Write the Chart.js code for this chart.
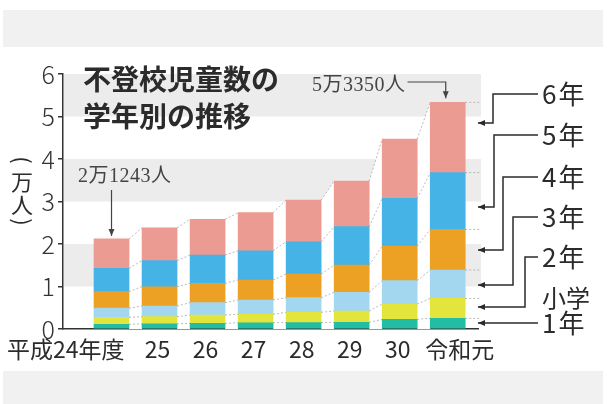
<!DOCTYPE html>
<html>
<head>
<meta charset="utf-8">
<script src="https://cdn.jsdelivr.net/npm/chart.js@4.4.1/dist/chart.umd.min.js"></script>
<style>
    html, body { margin: 0; padding: 0; background: #fff; }
    #wrap { position: relative; width: 607px; height: 404px; overflow: hidden; }
    .band { position: absolute; left: 3px; right: 4px; background: #f1f1f1; }
    #bandTop { top: 10px; height: 37px; }
    #bandBottom { top: 371px; height: 33px; }
    canvas { position: absolute; left: 0; top: 0; }
</style>
</head>
<body>
<div id="wrap">
    <div class="band" id="bandTop"></div>
    <div class="band" id="bandBottom"></div>
    <canvas id="chart" width="607" height="404"></canvas>
</div>
<script>
// 不登校児童数 (万人) by fiscal year and grade
const categories = ["平成24年度", "25", "26", "27", "28", "29", "30", "令和元"];
const gradeLabels = ["1年", "2年", "3年", "4年", "5年", "6年"];
const grade1 = [0.110, 0.120, 0.134, 0.148, 0.150, 0.157, 0.228, 0.252];
const grade2 = [0.165, 0.170, 0.196, 0.198, 0.243, 0.267, 0.360, 0.470];
const grade3 = [0.215, 0.250, 0.290, 0.336, 0.344, 0.439, 0.549, 0.666];
const grade4 = [0.390, 0.455, 0.455, 0.471, 0.557, 0.643, 0.816, 0.958];
const grade5 = [0.550, 0.615, 0.665, 0.689, 0.760, 0.901, 1.122, 1.332];
const grade6 = [0.690, 0.770, 0.840, 0.895, 0.980, 1.073, 1.395, 1.657];
const gradeColors = ["#22bea3", "#e3e53c", "#a2d7ef", "#eca024", "#46b3e6", "#eb9b92"];
const firstTotal = "2万1243人";
const lastTotal = "5万3350人";

const JP = '"Noto Sans CJK JP", "Noto Sans", sans-serif';
const INK = "#2b2b2b";

const series = [grade1, grade2, grade3, grade4, grade5, grade6];

// draw a polyline that ends in a small filled arrow head
function arrowLine(ctx, pts) {
    ctx.beginPath();
    ctx.moveTo(pts[0][0], pts[0][1]);
    for (let i = 1; i < pts.length; i++) ctx.lineTo(pts[i][0], pts[i][1]);
    ctx.stroke();
    const [x1, y1] = pts[pts.length - 2];
    const [x2, y2] = pts[pts.length - 1];
    const a = Math.atan2(y2 - y1, x2 - x1);
    const len = 7, half = 3;
    ctx.beginPath();
    ctx.moveTo(x2, y2);
    ctx.lineTo(x2 - len * Math.cos(a) + half * Math.sin(a), y2 - len * Math.sin(a) - half * Math.cos(a));
    ctx.lineTo(x2 - len * Math.cos(a) - half * Math.sin(a), y2 - len * Math.sin(a) + half * Math.cos(a));
    ctx.closePath();
    ctx.fill();
}

function barBox(bar) {
    return { left: bar.x - bar.width / 2, right: bar.x + bar.width / 2, top: bar.y, base: bar.base };
}

// gray bands behind the bars and white gaps between them
const backdrop = {
    id: "backdrop",
    beforeDatasetsDraw(chart) {
        const { ctx, chartArea, scales } = chart;
        const y = scales.y;
        ctx.save();
        ctx.fillStyle = "#ececec";
        [[1, 2], [3, 4], [5, 6]].forEach(([a, b]) => {
            const top = y.getPixelForValue(b);
            const bot = y.getPixelForValue(a);
            ctx.fillRect(chartArea.left + 1, top, chartArea.right + 2 - chartArea.left, bot - top);
        });
        const topMeta = chart.getDatasetMeta(series.length - 1).data;
        ctx.fillStyle = "#ffffff";
        for (let j = 0; j < topMeta.length - 1; j++) {
            const a = barBox(topMeta[j]);
            const b = barBox(topMeta[j + 1]);
            const base = y.getPixelForValue(0);
            ctx.beginPath();
            ctx.moveTo(a.right, a.top);
            ctx.lineTo(b.left, b.top);
            ctx.lineTo(b.left, base);
            ctx.lineTo(a.right, base);
            ctx.closePath();
            ctx.fill();
        }
        ctx.restore();
    },
    afterDatasetsDraw(chart) {
        const { ctx, chartArea } = chart;
        ctx.save();
        ctx.strokeStyle = "#a9a9a9";
        ctx.lineWidth = 0.8;
        ctx.setLineDash([2, 2]);
        series.forEach((_, d) => {
            const bars = chart.getDatasetMeta(d).data;
            for (let j = 0; j < bars.length; j++) {
                const a = barBox(bars[j]);
                ctx.beginPath();
                ctx.moveTo(a.right, a.top);
                if (j < bars.length - 1) {
                    const b = barBox(bars[j + 1]);
                    ctx.lineTo(b.left, b.top);
                } else {
                    ctx.lineTo(chartArea.right + 2, a.top);
                }
                ctx.stroke();
            }
        });
        ctx.restore();
    }
};

// title, unit, category labels, totals and the grade legend
const annotations = {
    id: "annotations",
    afterDraw(chart) {
        const { ctx, scales } = chart;
        const x = scales.x;
        ctx.save();
        ctx.fillStyle = INK;
        ctx.strokeStyle = INK;
        ctx.textBaseline = "middle";

        // title
        ctx.font = `bold 28px ${JP}`;
        ctx.textAlign = "left";
        ctx.fillText("不登校児童数の", 83, 79);
        ctx.fillText("学年別の推移", 83, 116);

        // unit (vertical)
        ctx.font = `22px ${JP}`;
        ctx.textAlign = "center";
        ctx.save();
        ctx.translate(22, 160);
        ctx.rotate(Math.PI / 2);
        ctx.fillText("(", 0, 0);
        ctx.restore();
        ctx.fillText("万", 22, 182);
        ctx.fillText("人", 22, 205);
        ctx.save();
        ctx.translate(22, 222);
        ctx.rotate(Math.PI / 2);
        ctx.fillText(")", 0, 0);
        ctx.restore();

        // category labels
        ctx.font = `23px ${JP}`;
        categories.forEach((c, i) => {
            const px = x.getPixelForValue(i);
            if (i === 0) {
                ctx.textAlign = "right";
                ctx.fillText(c, px + 13, 349);
            } else if (i === categories.length - 1) {
                ctx.textAlign = "center";
                ctx.fillText(c, px + 12, 349);
            } else {
                ctx.textAlign = "center";
                ctx.fillText(c, px - 2, 349);
            }
        });

        // totals
        ctx.lineWidth = 1.2;
        ctx.fillStyle = "#444";
        ctx.strokeStyle = "#444";
        ctx.font = `20px "Liberation Serif", "Noto Sans CJK JP", serif`;
        ctx.letterSpacing = "0.5px";
        const first = chart.getDatasetMeta(series.length - 1).data[0];
        const last = chart.getDatasetMeta(series.length - 1).data[categories.length - 1];
        ctx.textAlign = "left";
        ctx.fillText(firstTotal, 78, 177);
        arrowLine(ctx, [[first.x, 190], [first.x, first.y - 3]]);
        const lastEnd = 312 + ctx.measureText(lastTotal).width;
        ctx.fillText(lastTotal, 312, 86);
        arrowLine(ctx, [[lastEnd + 2, 82], [last.x - 2, 82], [last.x - 2, last.y - 4]]);

        // grade legend with leader arrows
        ctx.fillStyle = INK;
        ctx.strokeStyle = INK;
        ctx.lineWidth = 1.5;
        const tipX = chart.chartArea.right;
        const leaders = [
            { ty: 323, vx: null, ay: 323 },
            { ty: 257, vx: 525, ay: 307 },
            { ty: 217, vx: 513, ay: 285 },
            { ty: 177, vx: 503, ay: 250 },
            { ty: 135, vx: 494, ay: 207 },
            { ty: 94, vx: 493, ay: 123 }
        ];
        leaders.forEach((l, i) => {
            const pts = l.vx === null
                ? [[538, l.ty], [tipX, l.ay]]
                : [[538, l.ty], [l.vx, l.ty], [l.vx, l.ay], [tipX, l.ay]];
            arrowLine(ctx, pts);
            ctx.font = `26px ${JP}`;
            ctx.textAlign = "left";
            ctx.letterSpacing = "2px";
            ctx.fillText(gradeLabels[i], 542, l.ty);
        });
        ctx.letterSpacing = "0px";
        ctx.font = `24px ${JP}`;
        ctx.fillText("小学", 542, 298);
        ctx.restore();
    }
};

new Chart(document.getElementById("chart").getContext("2d"), {
    type: "bar",
    data: {
        datasets: series.map((values, d) => ({
            label: gradeLabels[d],
            data: values.map((v, i) => ({ x: i, y: v })),
            backgroundColor: gradeColors[d],
            borderWidth: 0,
            barThickness: 35
        }))
    },
    options: {
        responsive: false,
        animation: false,
        layout: { padding: { left: 0, right: 129, top: 74, bottom: 0 } },
        plugins: { legend: { display: false }, tooltip: { enabled: false } },
        scales: {
            x: {
                type: "linear",
                min: -1.01,
                max: 7.63,
                stacked: true,
                offset: false,
                grid: { display: false },
                ticks: { display: false },
                border: { color: "#333", width: 1.5 },
                afterFit: s => { s.height = 75; }
            },
            y: {
                stacked: true,
                min: 0,
                max: 6,
                ticks: {
                    stepSize: 1,
                    color: "#333",
                    padding: 3,
                    font: { size: 25, family: JP, weight: 300 }
                },
                grid: { drawOnChartArea: false, tickLength: 5, color: "#333", lineWidth: 1.5 },
                border: { color: "#333", width: 1.5 },
                afterFit: s => { s.width = 63; }
            }
        }
    },
    plugins: [backdrop, annotations]
});
</script>
</body>
</html>
